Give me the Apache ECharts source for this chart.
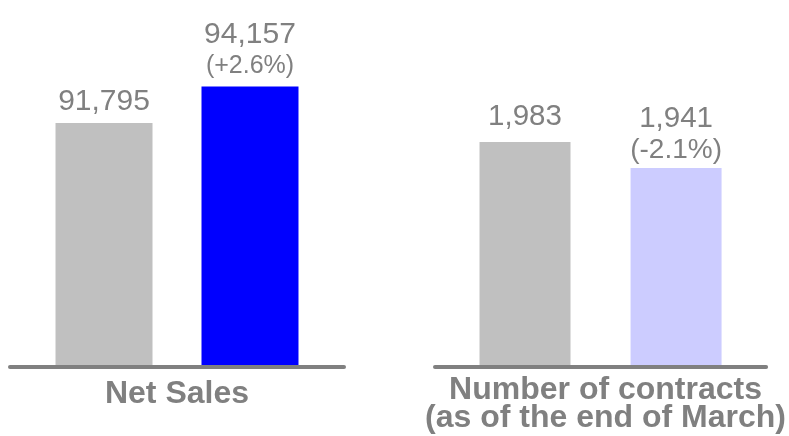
<!DOCTYPE html>
<html>
<head>
<meta charset="utf-8">
<script src="https://cdn.jsdelivr.net/npm/echarts@6/dist/echarts.min.js"></script>
<style>
  html, body { margin: 0; padding: 0; background: #fff; }
  #chart { width: 789px; height: 436px; }
</style>
</head>
<body>
<div id="chart"></div>
<script>
// Panel titles shown under each baseline
const panelTitles = ['Net Sales', 'Number of contracts\n(as of the end of March)'];
// Previous year values (grey bars)
const priorValues = [91795, 1983];
// Current year values (coloured bars)
const currentValues = [94157, 1941];
// Year-on-year change shown under the current value
const changeLabels = ['(+2.6%)', '(-2.1%)'];
// Value axis ranges per panel (baseline is not zero)
const axisMin = [76000, 1620];
const axisMax = [98000, 2100];

const FONT = '"Liberation Sans", Arial, sans-serif';
const TEXT = '#808080';
const currentColors = ['#0000FF', '#CCCCFF'];

const fmt = v => Number(v).toLocaleString('en-US');

const grids = [
  { left: 10, width: 334, top: 27.3, bottom: 69.5 },
  { left: 435, width: 334, top: 69.6, bottom: 69.5 }
];

const xAxes = panelTitles.map((t, i) => ({
  type: 'category',
  gridIndex: i,
  data: [t],
  z: 5,
  axisLine: { show: true, lineStyle: { color: '#808080', width: 4 } },
  axisTick: { show: false },
  axisLabel: {
    margin: i === 0 ? 12 : 10,
    color: TEXT,
    fontFamily: FONT,
    fontWeight: 'bold',
    fontSize: 32,
    lineHeight: i === 0 ? 32 : 28,
    padding: i === 0 ? 0 : [0, 0, 0, 10]
  }
}));

const yAxes = panelTitles.map((t, i) => ({
  type: 'value',
  gridIndex: i,
  min: axisMin[i],
  max: axisMax[i],
  show: false,
  splitLine: { show: false }
}));

const barWidths = [97, 91];
const barGaps = ['50.5%', '66%'];
const valueSizes = [30, 29.5];
const changeSizes = [25, 28];

const series = [];
panelTitles.forEach((t, i) => {
  series.push({
    type: 'bar',
    xAxisIndex: i,
    yAxisIndex: i,
    data: [priorValues[i]],
    barWidth: barWidths[i],
    barGap: barGaps[i],
    itemStyle: { color: '#C0C0C0' },
    label: {
      show: true,
      position: 'top',
      distance: i === 0 ? 6 : 10,
      formatter: p => '{v|' + fmt(p.value) + '}',
      rich: {
        v: { fontFamily: FONT, fontSize: valueSizes[i], lineHeight: valueSizes[i], color: TEXT }
      }
    }
  });
  series.push({
    type: 'bar',
    xAxisIndex: i,
    yAxisIndex: i,
    data: [currentValues[i]],
    barWidth: barWidths[i],
    barGap: barGaps[i],
    itemStyle: { color: currentColors[i] },
    label: {
      show: true,
      position: 'top',
      distance: i === 0 ? 4 : 2,
      formatter: p => '{v|' + fmt(p.value) + '}\n{c|' + changeLabels[i] + '}',
      rich: {
        v: { fontFamily: FONT, fontSize: valueSizes[i], lineHeight: i === 0 ? 30 : 32, color: TEXT },
        c: { fontFamily: FONT, fontSize: changeSizes[i], lineHeight: i === 0 ? 32.6 : 30.6, color: TEXT }
      }
    }
  });
});

const chart = echarts.init(document.getElementById('chart'), null, { renderer: 'canvas' });
chart.setOption({
  animation: false,
  backgroundColor: '#ffffff',
  grid: grids,
  xAxis: xAxes,
  yAxis: yAxes,
  series: series
});
</script>
</body>
</html>
